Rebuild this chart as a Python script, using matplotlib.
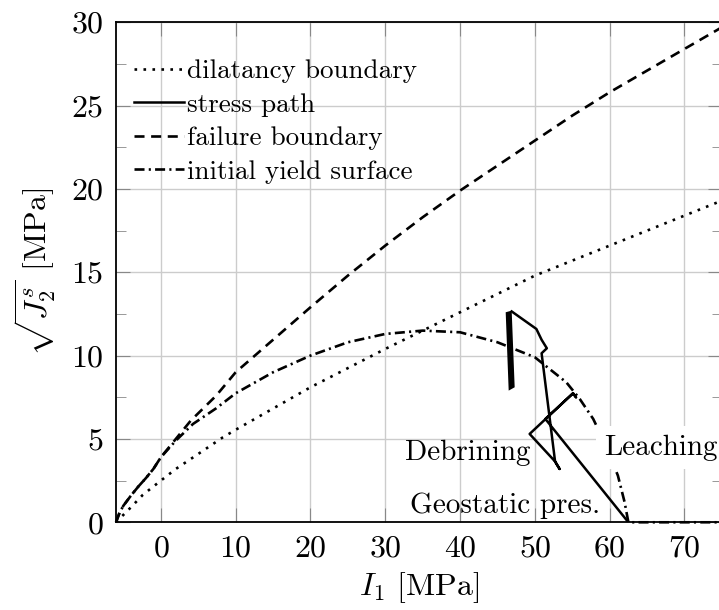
import numpy as np
import matplotlib.pyplot as plt

plt.rcParams['font.family'] = 'serif'
plt.rcParams['font.serif'] = ['cmr10']
plt.rcParams['mathtext.fontset'] = 'cm'
plt.rcParams['axes.formatter.use_mathtext'] = True

# dilatancy boundary (dotted)
dil_x = [-6, -5, -4, -2.4, 0, 2, 5, 8.3, 10, 20, 30, 40, 50, 60, 70, 75]
dil_y = [0.0, 0.45, 0.9, 1.65, 2.5, 3.2, 4.1, 5.1, 5.55, 8.1, 10.4, 12.6, 14.8, 16.6, 18.4, 19.3]

# failure boundary (dashed)
fail_x = [-6, -5.5, -5, -4, -3, -2, -1, 0, 2, 4, 7.4, 10, 15, 20, 25, 30, 35, 40, 45, 50, 55, 60,
          65, 70, 75]
fail_y = [0.0, 0.6, 1.0, 1.6, 2.15, 2.65, 3.2, 3.9, 5.0, 6.1, 7.6, 9.0, 10.95, 12.9, 14.8, 16.6,
          18.3, 19.9, 21.4, 22.9, 24.4, 25.8, 27.1, 28.4, 29.7]

# initial yield surface (dash-dot)
yld_x = [-6, -5.5, -5, -4, -3, -2, -1, 0, 2, 4.3, 7.4, 10, 15, 20, 25, 30, 35, 40, 45, 50, 54.2,
         56, 57.8, 59.5, 61.1, 62, 62.5, 75]
yld_y = [0.0, 0.6, 1.0, 1.6, 2.15, 2.65, 3.2, 3.9, 4.9, 5.9, 6.84, 7.74, 9.0, 10.0, 10.8, 11.3,
         11.5, 11.4, 10.8, 9.9, 8.4, 7.4, 6.2, 4.6, 2.8, 1.2, 0.0, 0.0]

# stress path (solid)
path_x = [62.5, 51.4, 55.1, 55.5, 55.1, 49.3, 52.7, 53.3, 52.7, 50.9, 51.6, 50.9, 50.2, 46.9]
path_y = [0.0, 6.2, 7.74, 7.5, 7.74, 5.3, 3.65, 3.2, 3.65, 10.14, 10.44, 10.95, 11.6, 12.65]
# dense cycling part of the stress path
cyc_x = [46.1, 46.9, 47.3, 46.5]
cyc_y = [12.6, 12.7, 8.1, 7.9]

fig = plt.figure(figsize=(7.19, 6.10), dpi=100)
ax = fig.add_axes([0.1613, 0.1438, 0.8427, 0.8197])

lw = 1.9
ax.plot(dil_x, dil_y, color='black', lw=lw, ls=(0, (1, 2.4)), zorder=3,
        label='dilatancy boundary')
ax.plot(path_x, path_y, color='black', lw=1.8, ls='-', zorder=3, label='stress path')
ax.fill(cyc_x, cyc_y, color='black', lw=0, zorder=3)
ax.plot(fail_x, fail_y, color='black', lw=lw, ls=(0, (3.8, 2.5)), zorder=3,
        label='failure boundary')
ax.plot(yld_x, yld_y, color='black', lw=lw, ls=(0, (3.8, 1.6, 0.8, 1.6)), zorder=3,
        clip_on=False, label='initial yield surface')

ax.text(41.0, 3.74, 'Debrining', fontsize=21, ha='center', va='baseline', zorder=4)
ax.text(66.85, 4.04, 'Leaching', fontsize=21, ha='center', va='baseline', zorder=4,
        bbox=dict(facecolor='white', edgecolor='none', pad=6))
ax.text(46.0, 0.54, 'Geostatic pres.', fontsize=21, ha='center', va='baseline', zorder=4)

ax.set_xlim(-6, 75)
ax.set_ylim(0, 30)
ax.set_xticks(np.arange(0, 80, 10))
ax.set_yticks(np.arange(0, 35, 5))
ax.set_yticks(np.arange(0, 30, 2.5), minor=True)
ax.grid(True, which='major', color='#cccccc', lw=1.0)
ax.set_axisbelow(True)
ax.tick_params(which='both', direction='in', top=True, right=True, color='#888888',
               labelsize=23, pad=9)
ax.tick_params(which='major', length=10)
ax.tick_params(which='minor', length=7)
for s in ax.spines.values():
    s.set_linewidth(1.3)

ax.set_xlabel(r'$I_1$ [MPa]', fontsize=23, labelpad=6)
ax.set_ylabel(r'$\sqrt{J_2^s}$ [MPa]', fontsize=23, labelpad=9)

ax.legend(loc='upper left', bbox_to_anchor=(0.029, 0.926), frameon=False, fontsize=19.5,
          handlelength=1.85, handletextpad=0.12, labelspacing=0.35, borderpad=0,
          borderaxespad=0)

plt.savefig('out.png', dpi=100)
